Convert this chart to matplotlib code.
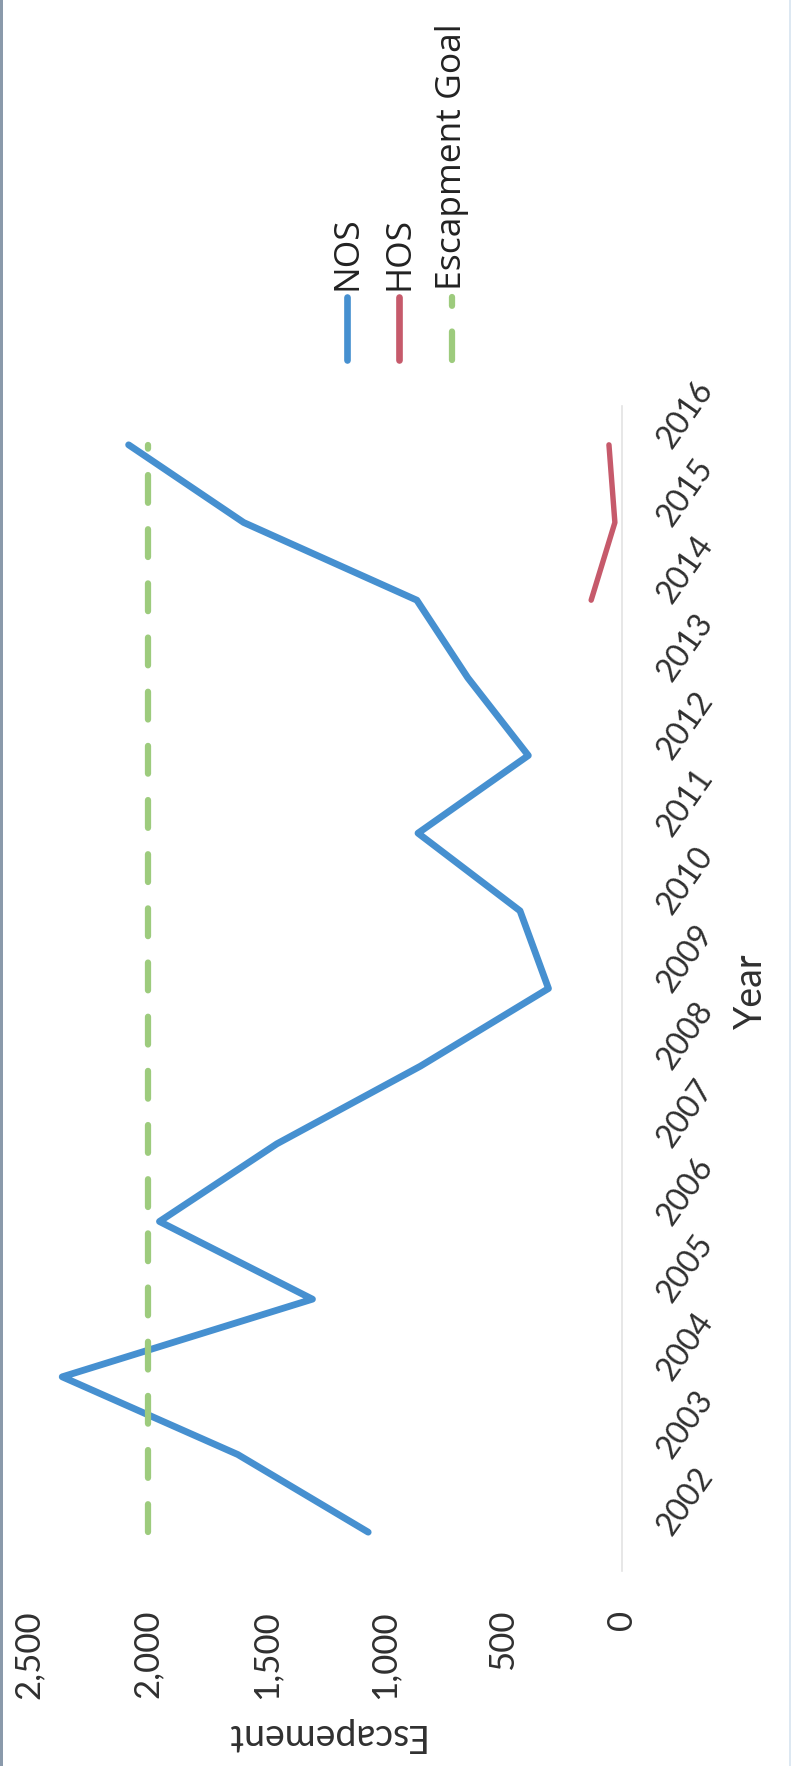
import matplotlib.pyplot as plt
from matplotlib.lines import Line2D
from matplotlib.patches import Rectangle

# escapement by year (chart is laid out sideways: values run right-to-left, years bottom-to-top)
years = list(range(2002, 2017))
nos = [1070, 1620, 2360, 1305, 1950, 1455, 850, 310, 430, 860, 395, 650, 865, 1595, 2080]
hos_years = [2014, 2015, 2016]
hos = [130, 30, 55]
goal = 2000

value_ticks = [2500, 2000, 1500, 1000, 500, 0]
value_labels = ['2,500', '2,000', '1,500', '1,000', '500', '0']
year_labels = [str(y) for y in years]

legend_items = ['NOS', 'HOS', 'Escapment Goal']

W, H = 794, 1766


def fx(px):
    return px / W


def fy(py):
    return 1 - py / H


plt.rcParams['lines.scale_dashes'] = False
axis_font = 'Lato'
text_color = '#303030'

fig = plt.figure(figsize=(W / 100, H / 100), dpi=100)
fig.patch.set_facecolor('white')

left, right, top, bottom = 29, 622, 406, 1571
ax = fig.add_axes([fx(left), fy(bottom), (right - left) / W, (bottom - top) / H])

ax.plot(nos, years, color='#4690d0', lw=4.9,
        solid_capstyle='round', solid_joinstyle='round')
ax.plot(hos, hos_years, color='#c65a6b', lw=3.9,
        solid_capstyle='round', solid_joinstyle='round')
ax.plot([goal] * len(years), years, color='#9dcb7d', lw=4.5,
        dashes=(20, 19), dash_capstyle='round')

ax.set_xlim(2500, 0)
ax.set_ylim(2001.5, 2016.5)

# value axis (drawn along the bottom, labels turned 90 degrees)
ax.set_xticks(value_ticks, value_labels, rotation=90, fontsize=25,
              family=axis_font, color=text_color)
ax.tick_params(axis='x', length=0, pad=28)

# year axis on the right with slanted labels
ax.yaxis.tick_right()
ax.set_yticks(years, year_labels, fontsize=23, family=axis_font, color=text_color)
ax.tick_params(axis='y', length=0, pad=30)
plt.setp(ax.get_yticklabels(), rotation=55, rotation_mode='anchor',
         ha='left', va='center')

for side in ['top', 'left', 'bottom']:
    ax.spines[side].set_visible(False)
ax.spines['right'].set_color('#e3e3e3')
ax.spines['right'].set_linewidth(1.2)

ax.set_xlabel('Escapement', rotation=180, fontsize=27, family=axis_font,
              color=text_color, va='center', ha='center')
ax.xaxis.set_label_coords((323 - left) / (right - left), (bottom - 1735) / (bottom - top))

ax.yaxis.set_label_position('right')
ax.set_ylabel('Year', rotation=90, fontsize=27, family=axis_font,
              color=text_color, va='center', ha='center')
ax.yaxis.set_label_coords((751 - left) / (right - left), (bottom - 991) / (bottom - top))

# legend, stacked sideways like the rest of the chart
legend_x = [347, 399, 452]
legend_colors = ['#4690d0', '#c65a6b', '#9dcb7d']
for name, x, c in zip(legend_items, legend_x, legend_colors):
    if name == 'Escapment Goal':
        fig.add_artist(Line2D([fx(x), fx(x)], [fy(360), fy(297)], color=c, lw=4.5,
                              dashes=(20.5, 18.5), dash_capstyle='round'))
    else:
        fig.add_artist(Line2D([fx(x), fx(x)], [fy(360), fy(297)], color=c, lw=4.8,
                              solid_capstyle='round'))
    fig.text(fx(x), fy(290), name, rotation=90, ha='center', va='bottom',
             fontsize=25.5, family='Open Sans', color='#222222')

# page edges
fig.add_artist(Rectangle((0, 0), fx(3), 1, transform=fig.transFigure,
                         color='#8a9aab', lw=0))
fig.add_artist(Rectangle((fx(789), 0), fx(2), 1, transform=fig.transFigure,
                         color='#dde8f2', lw=0))

fig.savefig('out.png', dpi=100)
